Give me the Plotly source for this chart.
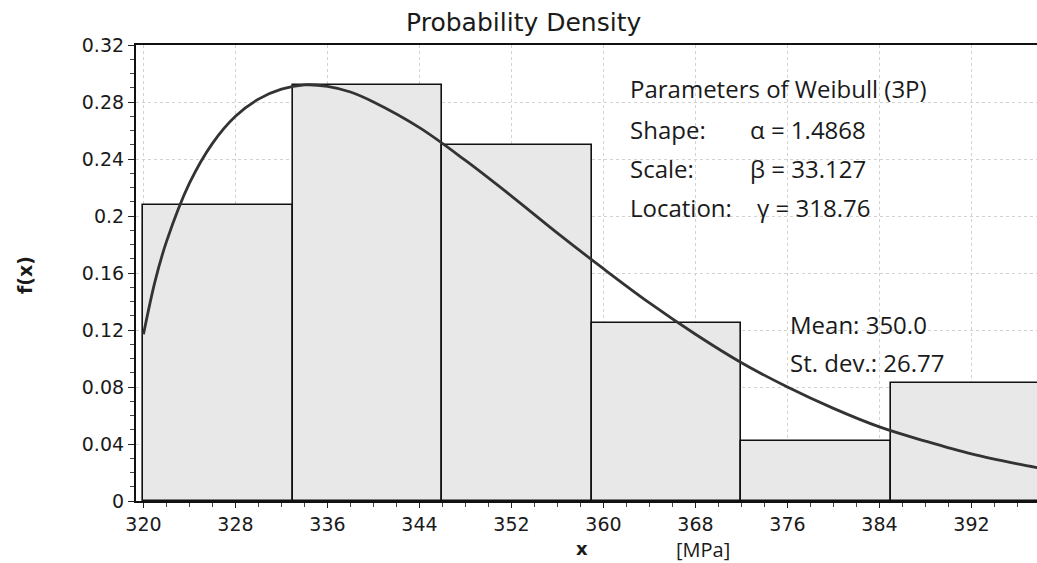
import plotly.graph_objects as go

# ---- data ----
bin_left = [320, 333, 346, 359, 372, 385]
bin_width = [13, 13, 13, 13, 13, 13]
bar_height = [0.208, 0.292, 0.250, 0.125, 0.042, 0.083]

curve_x = [320, 321, 322, 324, 326, 328, 330, 332, 334, 336, 338, 340, 344, 348,
           352, 356, 360, 364, 368, 372, 376, 380, 384, 388, 392, 396, 398]
curve_y = [0.117, 0.154, 0.182, 0.223, 0.251, 0.270, 0.282, 0.289, 0.292, 0.291,
           0.287, 0.280, 0.262, 0.239, 0.214, 0.188, 0.163, 0.139, 0.117, 0.097,
           0.080, 0.065, 0.052, 0.042, 0.033, 0.026, 0.023]

y_ticks = [0, 0.04, 0.08, 0.12, 0.16, 0.20, 0.24, 0.28, 0.32]
y_tick_text = ["0", "0.04", "0.08", "0.12", "0.16", "0.2", "0.24", "0.28", "0.32"]
x_ticks = [320, 328, 336, 344, 352, 360, 368, 376, 384, 392]
x_tick_text = ["320", "328", "336", "344", "352", "360", "368", "376", "384", "392"]

bar_center = [l + w / 2 for l, w in zip(bin_left, bin_width)]

fig = go.Figure()
fig.add_trace(go.Bar(
    x=bar_center, y=bar_height, width=bin_width,
    marker=dict(color="#e8e8e8", line=dict(color="#111111", width=1.6)),
    showlegend=False, hoverinfo="skip"))
fig.add_trace(go.Scatter(
    x=curve_x, y=curve_y, mode="lines", line=dict(color="#333333", width=2.8, shape="spline"),
    showlegend=False, hoverinfo="skip"))

tick_font = dict(family="DejaVu Sans", size=19, color="#1a1a1a")
grid = dict(showgrid=True, gridcolor="#d2d2d2", griddash="dot", gridwidth=1)

fig.update_layout(
    width=1037, height=563,
    margin=dict(l=136, r=0, t=45, b=62),
    paper_bgcolor="white", plot_bgcolor="white",
    bargap=0,
    title=dict(text="Probability Density", xref="container", x=0.505, xanchor="center",
               y=0.961, yanchor="middle",
               font=dict(family="DejaVu Sans", size=25, color="#1a1a1a")),
    xaxis=dict(range=[319.35, 397.7], tickmode="array", tickvals=x_ticks, ticktext=x_tick_text,
               ticks="outside", ticklen=5, tickwidth=1.2, tickcolor="#222",
               showline=True, linecolor="#111", linewidth=2.2, mirror=True,
               tickfont=tick_font, zeroline=False,
               minor=dict(dtick=2, tick0=320, ticks="outside", ticklen=4, tickcolor="#444", showgrid=False),
               **grid),
    yaxis=dict(range=[0, 0.32], tickmode="array", tickvals=y_ticks, ticktext=y_tick_text,
               ticks="outside", ticklen=6, tickwidth=1.2, tickcolor="#222",
               showline=True, linecolor="#111", linewidth=2.2, mirror=False,
               tickfont=tick_font, zeroline=False,
               minor=dict(dtick=0.01, tick0=0, ticks="outside", ticklen=4, tickcolor="#444", showgrid=False),
               **grid),
)

# white panels behind the text blocks (cover grid lines)
fig.add_shape(type="rect", xref="x", yref="y", x0=362.0, x1=398.5, y0=0.19, y1=0.312,
              fillcolor="white", line=dict(width=0), layer="below")
fig.add_shape(type="rect", xref="x", yref="y", x0=376.4, x1=391.6, y0=0.086, y1=0.141,
              fillcolor="white", line=dict(width=0), layer="below")

ann_font = dict(family="Open Sans", size=24, color="#1a1a1a")

def px_x(px):
    return (px - 136) / 901.0

def px_y(py):
    return (501 - py) / 456.0

texts = [
    ("Parameters of Weibull (3P)", 628, 88),
    ("Shape:", 628, 129), ("α = 1.4868", 748, 129),
    ("Scale:", 628, 168), ("β = 33.127", 748, 168),
    ("Location:", 628, 208), ("γ = 318.76", 755, 208),
    ("Mean: 350.0", 788, 324),
    ("St. dev.: 26.77", 788, 362),
]
for t, x, y in texts:
    fig.add_annotation(text=t, xref="paper", yref="paper", x=px_x(x), y=px_y(y),
                       xanchor="left", yanchor="middle", showarrow=False, font=ann_font)

# axis titles
fig.add_annotation(text="<b>x</b>", xref="paper", yref="paper", x=px_x(582), y=px_y(548),
                   xanchor="center", yanchor="middle", showarrow=False, borderpad=0,
                   font=dict(family="DejaVu Sans", size=18, color="#1a1a1a"))
fig.add_annotation(text="[MPa]", xref="paper", yref="paper", x=px_x(703), y=px_y(549),
                   xanchor="center", yanchor="middle", showarrow=False, borderpad=0,
                   font=dict(family="Open Sans", size=20, color="#1a1a1a"))
fig.add_annotation(text="<b>f(x)</b>", xref="paper", yref="paper", x=px_x(25), y=px_y(275),
                   xanchor="center", yanchor="middle", showarrow=False, textangle=-90,
                   font=dict(family="DejaVu Sans", size=19, color="#1a1a1a"))

fig.write_html("out.html", config={"displayModeBar": False},
               post_script="document.body.style.margin='0px';document.body.style.overflow='hidden';")
